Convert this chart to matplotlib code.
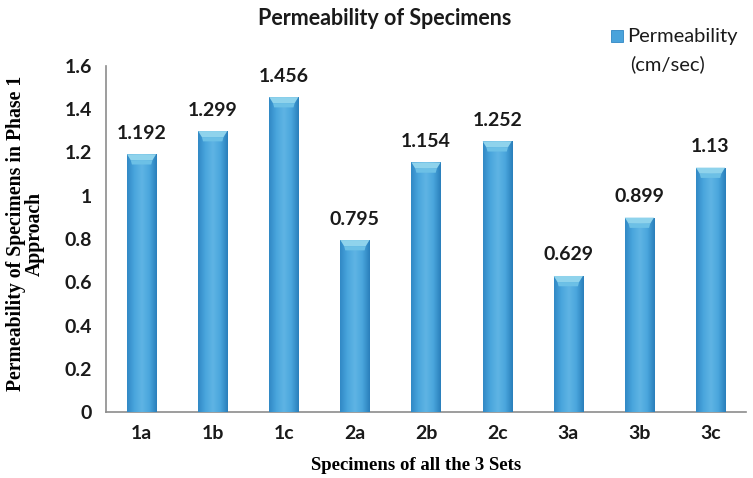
import matplotlib
matplotlib.use("Agg")
import matplotlib.pyplot as plt
import numpy as np
from matplotlib.colors import LinearSegmentedColormap
from matplotlib.patches import Polygon, Rectangle

categories = ["1a", "1b", "1c", "2a", "2b", "2c", "3a", "3b", "3c"]
values = [1.192, 1.299, 1.456, 0.795, 1.154, 1.252, 0.629, 0.899, 1.13]
value_labels = ["1.192", "1.299", "1.456", "0.795", "1.154", "1.252", "0.629", "0.899", "1.13"]
yticks = [0, 0.2, 0.4, 0.6, 0.8, 1, 1.2, 1.4, 1.6]
ytick_labels = ["0", "0.2", "0.4", "0.6", "0.8", "1", "1.2", "1.4", "1.6"]

SANS = "Lato"
SERIF = "Liberation Serif"
TXT = "#1a1a1a"

fig = plt.figure(figsize=(7.53, 4.78), dpi=100)
ax = fig.add_axes([0.1408, 0.138, 0.850, 0.724])

x = np.arange(len(categories))
width = 0.41
bars = ax.bar(x, values, width=width, color="#4aa3db", edgecolor="none", zorder=2)

# horizontal shading across each bar for a rounded look
shade = LinearSegmentedColormap.from_list(
    "shade", ["#3189c6", "#4aa6dd", "#5fb4e4", "#4aa6dd", "#2a7fbb"])
grad = np.linspace(0, 1, 64).reshape(1, -1)
cap_h = 0.028
for b in bars:
    x0, w, h = b.get_x(), b.get_width(), b.get_height()
    im = ax.imshow(grad, cmap=shade, aspect="auto",
                   extent=[x0, x0 + w, 0, h], zorder=3)
    im.set_clip_path(b)
    # bevelled top cap
    inset = w * 0.13
    ax.add_patch(Polygon([[x0, h], [x0 + w, h], [x0 + w - inset, h - cap_h],
                          [x0 + inset, h - cap_h]], closed=True,
                         facecolor="#8fd3ec", edgecolor="none", zorder=4))
    ax.add_patch(Polygon([[x0 + inset, h - cap_h], [x0 + w - inset, h - cap_h],
                          [x0 + w - inset * 1.3, h - cap_h * 1.7],
                          [x0 + inset * 1.3, h - cap_h * 1.7]], closed=True,
                         facecolor="#6cc0e6", edgecolor="none", zorder=4))

for xi, v, lab in zip(x, values, value_labels):
    ax.annotate(lab, (xi, v), xytext=(0, 9), textcoords="offset points",
                ha="center", va="bottom", fontsize=14, fontweight="bold",
                family=SANS, color=TXT)

ax.set_xlim(-0.5, len(categories) - 0.5)
ax.set_ylim(0, 1.6)
ax.set_yticks(yticks)
ax.set_yticklabels(ytick_labels)
ax.set_xticks(x)
ax.set_xticklabels(categories)
for lbl in ax.get_xticklabels() + ax.get_yticklabels():
    lbl.set_fontfamily(SANS)
    lbl.set_fontweight("bold")
    lbl.set_fontsize(14)
    lbl.set_color(TXT)
ax.tick_params(axis="both", length=0)
ax.tick_params(axis="x", pad=9)
ax.tick_params(axis="y", pad=10)

for side in ["top", "right"]:
    ax.spines[side].set_visible(False)
for side in ["left", "bottom"]:
    ax.spines[side].set_color("#8c8c8c")
    ax.spines[side].set_linewidth(1.2)

ax.set_xlabel("Specimens of all the 3 Sets", family=SERIF,
              fontweight="bold", fontsize=13.5)
ax.xaxis.set_label_coords(0.485, -0.13)
ax.set_ylabel("Permeability of Specimens in Phase 1\nApproach",
              family=SERIF, fontweight="bold", fontsize=14.2,
              linespacing=0.95)
ax.yaxis.set_label_coords(-0.095, 0.515)

fig.text(0.511, 0.962, "Permeability of Specimens", ha="center", va="center",
         family=SANS, fontweight="bold", fontsize=15.5, color=TXT)

# legend
fig.patches.append(Rectangle((0.8114, 0.912), 0.016, 0.025,
                             transform=fig.transFigure, facecolor="#4aa3db",
                             edgecolor="#2f86c4", linewidth=0.6))
fig.text(0.8327, 0.9226, "Permeability", ha="left", va="center",
         family=SANS, fontsize=14.5, color=TXT)
fig.text(0.8367, 0.866, "(cm/sec)", ha="left", va="center",
         family=SANS, fontsize=14.5, color=TXT)

fig.savefig("out.png", dpi=100)
